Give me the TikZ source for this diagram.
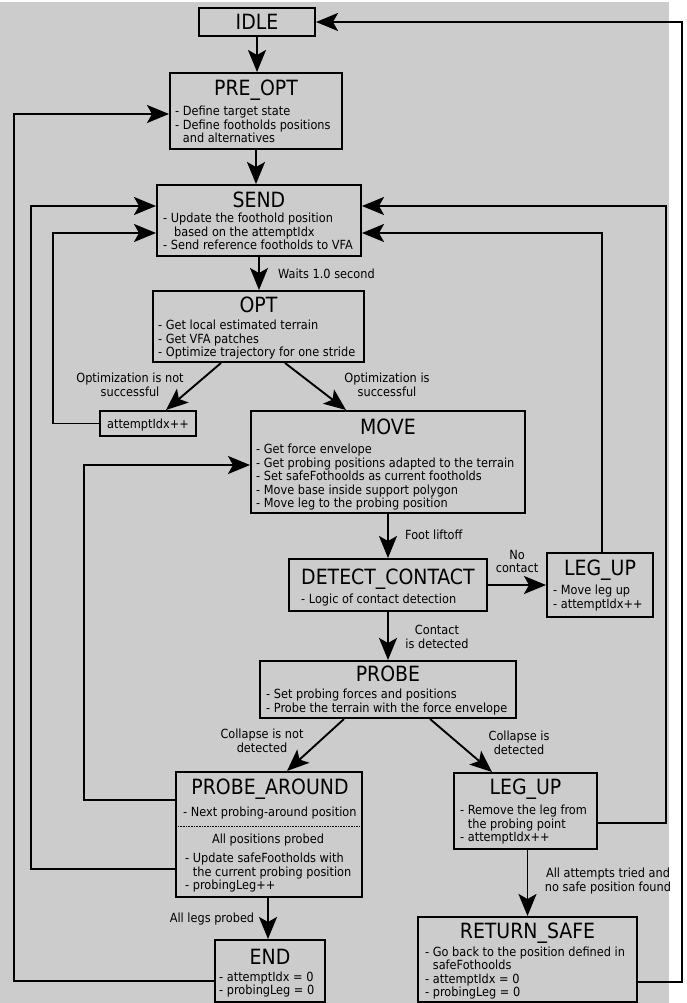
\documentclass[tikz,border=0pt]{standalone}
\usepackage{fontspec}
\setmainfont{DejaVu Sans Condensed}
\usetikzlibrary{arrows.meta,calc}
\definecolor{bg}{HTML}{CCCCCC}
\newcommand\bodyfont{\fontsize{12.6}{13.3}\selectfont}
\newcommand\titlefont{\fontsize{21}{23}\selectfont}
\newcommand\stlines[1]{\begin{tabular}[t]{@{}l@{}}#1\end{tabular}}
\newcommand\ctlines[1]{\begin{tabular}[t]{@{}c@{}}#1\end{tabular}}
\begin{document}
\begin{tikzpicture}[x=1pt,y=-1pt,
  state/.style={draw, line width=2pt, fill=bg, inner sep=0pt},
  conn/.style={line width=1.9pt, -{Stealth[length=22pt,width=18pt,inset=5pt]}},
  ttl/.style={font=\titlefont, anchor=base, inner sep=0pt},
  body/.style={font=\bodyfont, anchor=base west, inner sep=0pt},
  lbl/.style={font=\bodyfont, anchor=base, inner sep=0pt}]
\useasboundingbox (0,0) rectangle (686,1003);
\fill[white] (0,0) rectangle (686,1003);
\fill[bg] (0,2) rectangle (669,1003);

% ---- state boxes
\node[state, minimum width=116pt, minimum height=28pt] (IDLE) at (257,22) {};
\node[state, minimum width=172pt, minimum height=76pt] (PRE) at (256,111) {};
\node[state, minimum width=204pt, minimum height=71pt] (SEND) at (259,220.5) {};
\node[state, minimum width=211pt, minimum height=71pt] (OPT) at (258.5,326.5) {};
\node[state, minimum width=96pt, minimum height=25pt] (ATT) at (148,423.5) {};
\node[state, minimum width=274pt, minimum height=102pt] (MOVE) at (388,462) {};
\node[state, minimum width=198pt, minimum height=52pt] (DC) at (388,585) {};
\node[state, minimum width=106pt, minimum height=64pt] (LU1) at (600,585) {};
\node[state, minimum width=256pt, minimum height=57pt] (PROBE) at (388,689.5) {};
\node[state, minimum width=186pt, minimum height=125pt] (PA) at (269,834.5) {};
\node[state, minimum width=143pt, minimum height=76pt] (LU2) at (525.5,811) {};
\node[state, minimum width=110pt, minimum height=62pt] (END) at (270,971) {};
\node[state, minimum width=219pt, minimum height=85pt] (RS) at (527.5,959.5) {};

% ---- texts
\node[ttl] (IDLEt) at (257,29.5) {IDLE};

\node[ttl] (PREt) at (256,95.5) {PRE\_OPT};
\node[body] (PREb) at (175,115.5) {\stlines{- Define target state\\- Define footholds positions\\\phantom{- }and alternatives}};

\node[ttl] (SENDt) at (259,207.5) {SEND};
\node[body] (SENDb) at (163,222.5) {\stlines{- Update the foothold position\\\hspace*{11pt}based on the attemptIdx\\- Send reference footholds to VFA}};

\node[ttl] (OPTt) at (258.5,312.5) {OPT};
\node[body] (OPTb) at (158,329.5) {\stlines{- Get local estimated terrain\\- Get VFA patches\\- Optimize trajectory for one stride}};

\node[lbl] (ATTt) at (148,428) {attemptIdx++};

\node[ttl] (MOVEt) at (388,434.5) {MOVE};
\node[body] (MOVEb) at (256,453.5) {\stlines{- Get force envelope\\- Get probing positions adapted to the terrain\\- Set safeFothoolds as current footholds\\- Move base inside support polygon\\- Move leg to the probing position}};

\node[ttl] (DCt) at (388,584.5) {DETECT\_CONTACT};
\node[body] (DCb) at (301,603.5) {- Logic of contact detection};

\node[ttl] (LU1t) at (600,575.5) {LEG\_UP};
\node[body] (LU1b) at (553,594.5) {\stlines{- Move leg up\\- attemptIdx++}};

\node[ttl] (PROBEt) at (388,681.5) {PROBE};
\node[body] (PROBEb) at (266,698.5) {\stlines{- Set probing forces and positions\\- Probe the terrain with the force envelope}};

\node[ttl] (PAt) at (270,794.5) {PROBE\_AROUND};
\node[body] (PAb1) at (183,816.5) {- Next probing-around position};
\draw[line width=0.8pt, dash pattern=on 0.8pt off 0.8pt] ($(PA.north west)+(3,55)$) -- ($(PA.north east)+(-3,55)$);
\node[lbl] (PAb2) at (268,843.5) {All positions probed};
\node[body] (PAb3) at (185,862.5) {\stlines{- Update safeFootholds with\\\phantom{- }the current probing position\\- probingLeg++}};

\node[ttl] (LU2t) at (525.5,794.5) {LEG\_UP};
\node[body] (LU2b) at (460,814.5) {\stlines{- Remove the leg from\\\phantom{- }the probing point\\- attemptIdx++}};

\node[ttl] (ENDt) at (270,964.5) {END};
\node[body] (ENDb) at (219,981) {\stlines{- attemptIdx = 0\\- probingLeg = 0}};

\node[ttl] (RSt) at (527.5,938.5) {RETURN\_SAFE};
\node[body] (RSb) at (425,956) {\stlines{- Go back to the position defined in\\\phantom{- }safeFothoolds\\- attemptIdx = 0\\- probingLeg = 0}};

% ---- edge labels
\node[lbl, anchor=base west] (L1) at (278,278.5) {Waits 1.0 second};
\node[lbl] (L2) at (130,382.5) {\ctlines{Optimization is not\\successful}};
\node[lbl] (L3) at (387,382.5) {\ctlines{Optimization is\\successful}};
\node[lbl, anchor=base west] (L4) at (405,539.5) {Foot liftoff};
\node[lbl] (L5) at (517,559.5) {\ctlines{No\\contact}};
\node[lbl] (L6) at (437,634.5) {\ctlines{Contact\\is detected}};
\node[lbl] (L7) at (262,738.5) {\ctlines{Collapse is not\\detected}};
\node[lbl] (L8) at (519,740.5) {\ctlines{Collapse is\\detected}};
\node[lbl] (L9) at (212,922.5) {All legs probed};
\node[lbl] (L10) at (608,877.5) {\ctlines{All attempts tried and\\no safe position found}};

% ---- connectors
\draw[conn] (IDLE.south) -- (IDLE.south |- PRE.north);
\draw[conn] (PRE.south) -- (PRE.south |- SEND.north);
\draw[conn] (SEND.south) -- (SEND.south |- OPT.north);
\draw[conn] ([xshift=69pt]OPT.south west) -- ([xshift=67pt]ATT.north west);
\draw[conn] ([xshift=133pt]OPT.south west) -- ([xshift=96pt]MOVE.north west);
\draw[conn] (ATT.west) -- ++(-46,0) |- ([yshift=-12.5pt]SEND.west);
\draw[conn] (MOVE.south) -- (DC.north);
\draw[conn] (DC.east) -- (LU1.west);
\draw[conn] ([xshift=2pt]LU1.north) |- ([yshift=-12.5pt]SEND.east);
\draw[conn] (DC.south) -- (PROBE.north);
\draw[conn] ([xshift=85pt]PROBE.south west) -- ([xshift=112pt]PA.north west);
\draw[conn] ([xshift=171pt]PROBE.south west) -- ([xshift=39pt]LU2.north west);
\draw[conn] ([yshift=34.5pt]PA.west) -- ++(-91,0) |- ([yshift=-3pt]MOVE.west);
\draw[conn] ([yshift=-34.5pt]PA.west) -- ++(-144,0) |- ([yshift=14.5pt]SEND.west);
\draw[conn] ([yshift=-12pt]LU2.east) -- ++(68,0) |- ([yshift=14.5pt]SEND.east);
\draw[conn] ([xshift=-1pt]PA.south) -- ([xshift=-1pt]PA.south |- END.north);
\draw[conn] (RS.north |- LU2.south) -- (RS.north);
\draw[conn] ([yshift=-22.5pt]RS.east) -- ++(44,0) |- (IDLE.east);
\draw[conn] ([yshift=-10pt]END.west) -- ++(-200,0) |- ([yshift=-3pt]PRE.west);
\end{tikzpicture}
\end{document}
